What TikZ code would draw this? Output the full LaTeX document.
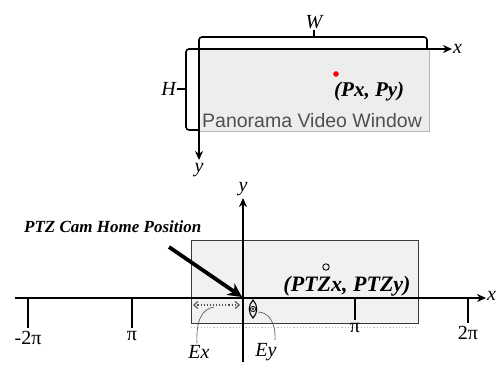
\documentclass[tikz,border=0pt]{standalone}
\usepackage{fontspec}
\setmainfont{Liberation Serif}
\setsansfont{Liberation Sans}
\usetikzlibrary{arrows.meta,positioning}
\definecolor{WinFill}{HTML}{EDEDED}
\definecolor{WinLine}{HTML}{B8B8B8}
\definecolor{PtzFill}{HTML}{F1F1F1}
\definecolor{PtzLine}{HTML}{3A3A3A}
\definecolor{TxtGray}{HTML}{505050}
\begin{document}
\begin{tikzpicture}[x=1pt,y=-1pt,
  axis/.style={-{Stealth[length=9pt,width=8pt]},line width=1.6pt},
  brace/.style={line width=1.6pt,rounded corners=3pt},
  tick/.style={line width=1.3pt},
  lab/.style={font=\fontsize{20}{20}\selectfont\itshape,inner sep=1pt},
  pilab/.style={font=\fontsize{20}{20}\selectfont,inner sep=1pt},
  thin/.style={draw=TxtGray,line width=0.6pt}
]
\useasboundingbox (0,0) rectangle (498,367);

% panorama window
\node[draw=WinLine,fill=WinFill,minimum width=230pt,minimum height=82pt,inner sep=0pt,anchor=north west] (pano) at (199,49) {};
\node[font=\sffamily\fontsize{19.5}{19.5}\selectfont,text=TxtGray,anchor=base west,inner sep=0pt] (panotext) at (202,127) {Panorama Video Window};
\coordinate (po) at (199,49);
\coordinate (px) at (452,49);
\coordinate (py) at (199,160);
\draw[axis] (po) -- (px);
\draw[axis] (po) -- (py);
\node[lab,right=0pt of px] {x};
\node[lab,below=2pt of py] {y};
\fill[red] (336,74) circle (2.8pt) coordinate (pdot);
\node[font=\fontsize{21}{21}\selectfont\itshape\bfseries,anchor=base west,inner sep=0pt] (plab) at (334,96) {(Px, Py)};

% braces
\draw[brace] (199,49) -- (199,37) -- (427,37) -- (427,49);
\draw[tick] (314,37) -- (314,30) coordinate (wtop);
\node[lab,above=0pt of wtop] {W};
\draw[brace] (199,49) -- (186,49) -- (186,130) -- (199,130);
\draw[tick] (186,89) -- (177,89) coordinate (hleft);
\node[lab,left=0pt of hleft] {H};

% ptz plane
\node[draw=PtzLine,line width=1.2pt,fill=PtzFill,minimum width=227pt,minimum height=83pt,inner sep=0pt,anchor=north west] (ptz) at (191,240) {};
\draw[WinLine,dotted,line width=1.2pt] (ptz.south west) ++(0,3) -- ++(227,0);
\coordinate (xl) at (15,298);
\coordinate (xr) at (486,298);
\coordinate (yb) at (243,362);
\coordinate (yt) at (243,198);
\draw[axis] (xl) -- (xr);
\draw[axis] (yb) -- (yt);
\node[lab,anchor=west,inner sep=0pt] at (487,296) {x};
\node[lab,above=1pt of yt] {y};

% ticks
\foreach \name/\tx/\ty/\txt in {tmtwo/28/328/-2π,tmone/132/328/π,tpone/355/320/π,tptwo/468/323/2π}{
  \draw[tick] (\tx,298) -- (\tx,\ty) coordinate (\name);
  \node[pilab,below=2pt of \name] {\txt};
}

% home position
\node[font=\fontsize{17}{17}\selectfont\bfseries\itshape,anchor=west,inner sep=0pt] (home) at (24,227) {PTZ Cam Home Position};
\coordinate (hs) at (169,247);
\coordinate (he) at (242,297);
\draw[-{Stealth[length=14pt,width=14pt]},line width=3.8pt] (hs) -- (he);

\draw[line width=0.9pt] (326,267) circle (3.2pt) node (ptzdot) {};
\node[font=\fontsize{22}{22}\selectfont\itshape\bfseries,anchor=base,inner sep=0pt] (ptzlab) at (347,291) {(PTZx, PTZy)};

% extents
\coordinate (exl) at (193,305);
\coordinate (exr) at (240,305);
\draw[TxtGray,dotted,line width=1.1pt,{Straight Barb[length=4pt,width=7pt]}-{Straight Barb[length=4pt,width=7pt]}] (exl) -- (exr);
\draw[line width=1.1pt] (253,300) .. controls (258,305) and (258,313) .. (253,318) .. controls (248,313) and (248,305) .. (253,300) -- cycle;
\draw[line width=0.8pt] (253,309) circle (2.6pt);
\fill (253,309) circle (1.1pt) coordinate (eymark);
\node[lab] (ex) at (199,352) {Ex};
\node[lab] (ey) at (266,352) {Ey};
\draw[thin] (ex.north) ++(-2,-1) .. controls (196,320) and (202,309) .. (214,307);
\draw[thin] (ey.north) ++(9,-2) .. controls (276,322) and (268,312) .. (258,312);
\end{tikzpicture}
\end{document}
